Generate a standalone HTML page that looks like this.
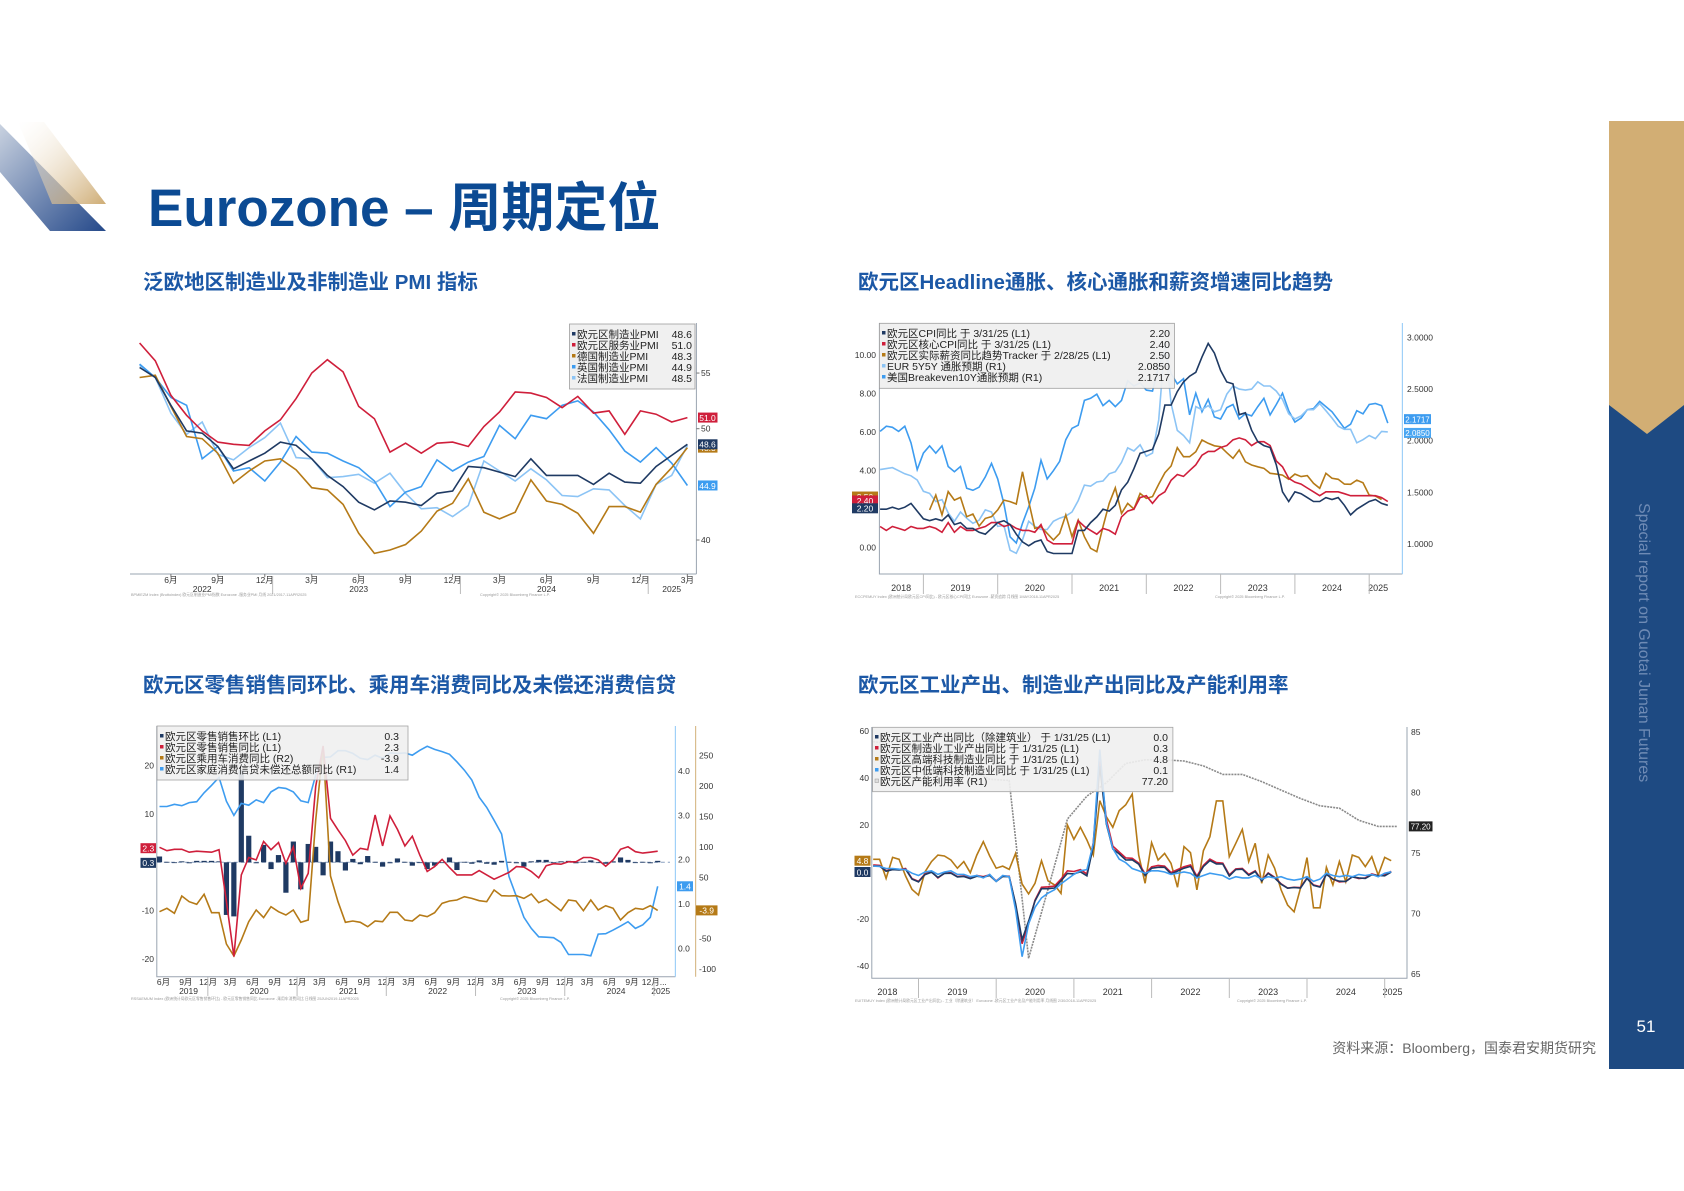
<!DOCTYPE html>
<html><head><meta charset="utf-8">
<style>
html,body{margin:0;padding:0;background:#fff;}
#page{position:relative;width:1684px;height:1191px;overflow:hidden;background:#fff;font-family:"Liberation Sans","Noto Sans CJK SC",sans-serif;}
svg text{font-family:"Liberation Sans","Noto Sans CJK SC",sans-serif;}
</style></head>
<body>
<div id="page">
<svg id="svg" width="1684" height="1191" viewBox="0 0 1684 1191" xmlns="http://www.w3.org/2000/svg">
<defs>
<linearGradient id="gBlue" x1="0" y1="0" x2="1" y2="1"><stop offset="0" stop-color="#c9d2e0"/><stop offset="1" stop-color="#25498a"/></linearGradient>
<linearGradient id="gGold" x1="0" y1="0" x2="1" y2="1"><stop offset="0" stop-color="#ffffff" stop-opacity="0.2"/><stop offset="1" stop-color="#c9a365"/></linearGradient>
</defs>
<g>
<polygon points="0,124 0,172 50,231 106,231" fill="url(#gBlue)"/>
<polygon points="18,122 44,122 106,204 52,204" fill="url(#gGold)" opacity="0.9"/>
</g>
<text x="148" y="226" font-size="53" font-weight="bold" fill="#0b4a93">Eurozone – 周期定位</text>
<g>
<rect x="1609" y="121" width="75" height="948" fill="#1e4a82"/>
<polygon points="1609,121 1684,121 1684,405 1647,434 1609,405" fill="#d2ae74"/>
<text transform="translate(1639,503) rotate(90)" font-size="16" fill="#6f8bb5">Special report on Guotai Junan Futures</text>
<text x="1646" y="1032" font-size="17" fill="#fff" text-anchor="middle">51</text>
</g>
<text x="1596" y="1053" font-size="14" fill="#666" text-anchor="end">资料来源：Bloomberg，国泰君安期货研究</text>
<text x="143" y="289" font-size="20.5" font-weight="bold" fill="#1c58a6">泛欧地区制造业及非制造业 PMI 指标</text>
<text x="858" y="289" font-size="20.5" font-weight="bold" fill="#1c58a6">欧元区Headline通胀、核心通胀和薪资增速同比趋势</text>
<text x="143" y="692" font-size="20.5" font-weight="bold" fill="#1c58a6">欧元区零售销售同环比、乘用车消费同比及未偿还消费信贷</text>
<text x="858" y="692" font-size="20.5" font-weight="bold" fill="#1c58a6">欧元区工业产出、制造业产出同比及产能利用率</text>
<g id="c1"></g>
<g id="c2"></g>
<g id="c3"></g>
<g id="c4"></g>
</svg>
</div>
<script>
// ---------- Chart 1 data (Apr 2022 - Mar 2025) ----------
const pmiMfgEZ = [55.5,54.6,52.1,49.8,49.6,48.4,46.4,47.1,47.8,48.8,48.5,47.3,45.8,44.8,43.4,42.7,43.5,43.4,43.1,44.2,44.4,46.6,46.5,46.1,45.7,47.3,45.8,45.8,45.8,45.0,46.0,45.2,45.1,46.6,47.6,48.6];
const pmiSrvEZ = [57.7,56.1,53.0,51.2,49.8,48.8,48.6,48.5,49.8,50.8,52.7,55.0,56.2,55.1,52.0,50.9,47.9,48.7,47.8,48.7,48.8,48.4,50.2,51.5,53.3,53.2,52.8,51.9,52.9,51.4,51.6,49.5,51.6,51.3,50.6,51.0];
const pmiMfgDE = [54.6,54.8,52.0,49.3,49.1,47.8,45.1,46.2,47.1,47.3,46.3,44.7,44.5,43.2,40.6,38.8,39.1,39.6,40.8,42.6,43.3,45.5,42.5,41.9,42.5,45.4,43.5,43.2,42.4,40.6,43.0,43.0,42.5,45.0,46.5,48.3];
const pmiMfgUK = [55.8,54.6,52.8,52.1,47.3,48.4,46.2,46.5,45.3,47.0,49.3,47.9,47.8,47.1,46.5,45.3,43.0,44.3,44.8,47.2,46.2,47.0,47.5,50.3,49.1,51.2,50.9,52.1,52.5,51.5,49.9,48.0,47.0,48.3,46.9,44.9];
const pmiMfgFR = [55.7,54.6,51.4,49.5,50.6,47.7,47.2,48.3,49.2,50.5,47.4,47.3,45.6,45.7,45.9,45.1,46.0,44.2,42.8,42.9,42.1,43.1,47.1,46.2,45.3,46.4,45.4,44.0,43.9,44.6,44.5,43.1,41.9,45.0,45.8,48.5];
const c1MonthLabels = ["6月","9月","12月","3月","6月","9月","12月","3月","6月","9月","12月","3月"];
const c1YearLabels = ["2022","2023","2024","2025"];
const c1Ticks = [40,50,55];

// ---------- Chart 2 data (monthly) ----------
const cpiYoY = [2.0,2.0,2.1,2.0,2.1,2.3,1.9,1.5, 1.4,1.5,1.4,1.7,1.2,1.3,1.0,1.0,0.8,0.7,1.0,1.3, 1.4,1.2,0.7,0.3,0.1,0.3,0.4,-0.2,-0.3,-0.3,-0.3,-0.3, 0.9,0.9,1.3,1.6,2.0,1.9,2.2,3.0,3.4,4.1,4.9,5.0, 5.1,5.9,7.4,7.4,8.1,8.6,8.9,9.1,9.9,10.6,10.1,9.2, 8.6,8.5,6.9,7.0,6.1,5.5,5.3,5.2,4.3,2.9,2.4,2.9, 2.8,2.6,2.4,2.4,2.6,2.5,2.6,2.2,1.7,2.0,2.2,2.4, 2.5,2.3,2.2];
const coreYoY = [1.1,0.9,1.1,1.0,0.9,1.1,1.0,1.0, 1.1,1.0,0.8,1.3,0.8,1.1,0.9,0.9,1.0,1.1,1.3,1.3, 1.1,1.2,1.0,0.9,0.9,0.8,1.2,0.4,0.2,0.2,0.2,0.2, 1.4,1.1,0.9,0.7,1.0,0.9,0.7,1.6,1.9,2.0,2.6,2.7, 2.3,2.7,2.9,3.5,3.8,3.7,4.0,4.3,4.8,5.0,5.0,5.2, 5.3,5.6,5.7,5.6,5.3,5.5,5.5,5.3,4.5,4.2,3.6,3.4, 3.3,3.1,2.9,2.7,2.9,2.9,2.9,2.8,2.7,2.7,2.7,2.7, 2.7,2.6,2.4];
const wageTracker = [1.96,2.73,1.70,2.91,2.47,2.61,1.61,1.75,1.12,1.52,1.61,1.96,2.47,2.39,2.27,3.94,2.39,1.00,1.09,0.74,0.40,0.74,1.70,0.57,1.44,0.57,-0.03,-0.21,1.09,2.30,3.11,1.78,2.30,2.01,2.82,2.56,2.65,3.29,3.89,4.24,5.19,4.72,4.72,4.98,5.59,5.42,5.29,5.24,4.93,4.64,5.07,4.46,4.29,4.20,4.12,3.86,3.82,3.77,3.55,3.82,3.69,3.74,3.34,3.08,3.86,3.60,3.55,3.30,3.29,3.51,3.37,2.73,2.68,2.50];
const eur5y5y = [1.72,1.73,1.74,1.71,1.68,1.66,1.62,1.51, 1.49,1.41,1.43,1.30,1.22,1.31,1.25,1.20,1.23,1.33,1.31,1.17, 1.18,0.94,0.91,1.04,1.22,1.17,1.14,1.14,1.22,1.25,1.27,1.31, 1.42,1.57,1.56,1.60,1.61,1.68,1.70,1.79,1.93,1.90,1.96,1.85, 1.88,2.20,2.95,2.36,2.10,2.05,1.98,2.33,2.30,2.34,2.28,2.30, 2.45,2.53,2.50,2.49,2.50,2.57,2.53,2.53,2.48,2.40,2.26,2.21, 2.24,2.30,2.30,2.36,2.29,2.22,2.14,2.11,2.11,1.98,2.01,2.05, 2.02,2.09,2.085];
const usBE10y = [2.09,2.14,2.13,2.09,2.14,1.98,1.72,1.88, 1.95,1.88,1.95,1.75,1.70,1.75,1.54,1.52,1.55,1.65,1.78,1.63, 1.39,1.07,1.01,1.20,1.36,1.54,1.81,1.63,1.71,1.80,2.01,2.12, 2.15,2.39,2.41,2.45,2.34,2.39,2.33,2.39,2.58,2.53,2.56,2.49, 2.48,2.72,2.87,2.65,2.55,2.60,2.25,2.46,2.28,2.40,2.23,2.21, 2.32,2.35,2.21,2.26,2.24,2.33,2.41,2.25,2.35,2.46,2.29,2.18, 2.22,2.30,2.31,2.38,2.33,2.28,2.20,2.12,2.16,2.29,2.26,2.35, 2.36,2.34,2.17];
const c2YearLabels = ["2018","2019","2020","2021","2022","2023","2024","2025"];
const c2LeftTicks = [0,2,4,6,8,10];
const c2RightTicks = [1.0,1.5,2.0,2.5,3.0];

// ---------- Chart 3 data (Jun 2019 - Jan 2025) ----------
const retailMoM = [1.2,0.1,-0.1,0.2,-0.2,0.3,0.3,0.3,0.2,-10.9,-11.2,19.1,5.5,-0.2,3.6,-1.4,1.5,-6.3,4.3,-5.6,3.8,3.2,-2.7,4.3,2.3,-1.7,0.7,-0.4,1.3,0.1,-0.9,-0.2,0.8,0.1,-0.7,0.0,-1.4,-0.7,0.0,1.0,-1.6,0.1,-0.3,0.4,-0.3,-0.5,0.3,0.1,-0.2,-0.9,0.2,0.5,0.5,-0.1,0.2,0.3,-0.2,0.1,0.4,-0.1,-0.3,0.2,1.0,0.5,-0.1,0.1,-0.2,0.3];
const retailYoY = [3.1,2.4,2.7,2.7,2.1,2.3,2.2,2.1,2.6,-8.1,-19.5,-2.6,1.0,0.5,4.3,2.6,4.1,-0.2,3.2,-5.4,-2.3,15.7,24.1,9.1,6.7,4.5,1.5,2.9,2.6,9.8,3.4,9.6,6.8,3.4,5.4,1.5,-1.9,-0.9,0.6,-1.1,-2.6,-2.6,-2.6,-1.7,-2.6,-3.5,-2.8,-2.1,-0.9,-1.0,-1.9,-3.2,-0.7,-0.3,-0.4,0.1,0.1,1.0,1.0,0.5,-0.8,0.5,2.7,3.2,2.2,1.9,2.1,2.3];
const carYoY = [-6.0,-0.5,-8.7,19.7,10.4,6.0,22.4,-7.7,-7.7,-59.0,-78.7,-52.5,-22.4,-3.3,-15.8,2.2,-6.0,-11.5,-3.3,-23.5,-19.7,144,264,52.5,10.4,-23.5,-21.3,-23.5,-30.6,-21.3,-22.4,-7.1,-7.1,-19.7,-21.3,-11.5,-14.2,-7.7,7.7,11.5,13.1,18.6,15.8,12.0,10.4,29.5,20.2,19.7,20.2,15.8,23.0,8.7,14.2,4.9,-4.4,13.1,11.5,-4.4,13.1,-3.3,3.8,-0.5,-19.7,-7.7,-0.5,-2.2,3.8,-3.9];
const creditYoY = [3.20,3.20,3.25,3.22,3.29,3.31,3.51,3.68,3.86,3.32,3.00,3.27,3.23,3.35,3.29,3.53,3.63,3.61,3.53,3.33,3.29,3.91,4.31,4.32,4.46,4.46,4.40,4.29,4.26,4.36,4.29,4.41,4.40,4.41,4.36,4.47,4.56,4.49,4.44,4.38,4.21,4.02,3.80,3.41,3.18,2.89,2.58,1.62,1.17,0.70,0.45,0.26,0.25,0.24,0.13,-0.14,-0.14,-0.14,-0.17,0.32,0.33,0.41,0.50,0.60,0.45,0.53,0.70,1.40];
const c3MonthLabels = ["6月","9月","12月","3月"];
const c3YearLabels = ["2019","2020","2021","2022","2023","2024","2025"];
const c3LeftTicks = [-20,-10,10,20];
const c3R1Ticks = [0.0,1.0,2.0,3.0,4.0];
const c3R2Ticks = [-100,-50,50,100,150,200,250];

// ---------- Chart 4 data (May 2018 - Jan 2025) ----------
const ipExCon = [2.5,2.5,0.3,1.0,0.9,1.2,-3.0,-4.2, -1.1,-0.1,-2.3,-0.6,-0.5,-2.1,-1.9,-2.8,-1.8,-2.2,-1.5,-4.0, -1.9,-2.0,-13.5,-28.7,-20.9,-12.3,-7.1,-7.1,-6.8,-3.8,-0.6,-0.8, 0.1,-1.6,11.0,45.0,20.5,9.8,7.7,5.1,5.2,3.3,-1.5,1.6, 2.0,2.0,-0.8,0.4,1.6,2.4,-2.4,2.3,4.9,3.4,3.4,-1.7, 1.0,1.2,-1.4,0.2,-3.8,-0.6,-2.5,-5.2,-6.9,-6.6,-6.8,-2.7, -5.7,-6.4,-1.0,-3.0,-3.9,-4.0,-2.1,-2.5,-2.7,-1.2,-1.5,-1.6, 0.0];
const ipMfg = [3.0,2.8,0.5,1.2,1.0,1.5,-2.8,-4.0, -0.8,0.2,-2.5,-0.5,-0.3,-2.0,-1.7,-2.6,-1.5,-2.0,-1.2,-3.8, -1.6,-1.8,-14.0,-30.5,-22.0,-12.0,-6.5,-6.3,-6.0,-3.0,0.5,0.2, 1.0,-0.8,12.5,47.0,22.5,11.0,8.5,6.0,5.8,3.8,-0.8,2.2, 2.8,2.5,-0.2,1.0,2.2,3.0,-1.8,2.8,5.5,4.0,3.8,-1.2, 1.3,1.5,-1.0,0.5,-3.5,-0.4,-2.2,-5.0,-6.8,-6.5,-6.6,-2.5, -5.5,-6.2,-0.8,-3.0,-4.2,-4.0,-2.0,-2.8,-2.5,-0.8,-1.6,-1.2, 0.3];
const ipHighTech = [5.4,5.4,-2.7,6.2,5.4,-1.7,-7.4,-9.8,0.1,4.4,7.2,6.8,5.1,1.6,4.4,-0.3,7.2,12.9,6.8,1.6,2.5,1.1,7.9,-5.1,-9.3,-4.8,4.8,-3.8,-5.5,-9.1,20.0,13.9,19.0,13.6,7.2,30.3,23.5,19.0,26.1,28.5,33.1,7.2,-4.8,12.5,5.1,7.9,3.7,-6.5,10.8,8.2,-7.6,9.1,15.0,30.2,30.2,6.5,12.2,18.1,4.4,12.2,-4.8,7.2,1.6,-7.6,-14.0,-16.9,-6.9,6.1,-15.2,-15.2,2.0,-5.5,4.4,-4.1,7.2,6.2,2.3,6.5,-1.3,6.2,4.8];
const ipMidLow = [2.5,2.4,1.5,1.5,1.2,1.0,-0.5,-1.5, 0.0,0.5,-1.0,0.0,0.5,-1.0,-1.0,-2.0,-1.5,-2.5,-1.0,-4.0, -1.5,-2.0,-16.0,-36.0,-22.0,-15.0,-11.0,-9.0,-7.5,-5.0,-3.0,-1.0, 0.5,1.0,12.0,52.0,21.0,10.0,5.5,4.0,1.5,0.5,-0.5,0.5, 0.5,0.0,-1.0,-0.5,0.0,-0.5,-2.5,-1.5,-0.5,-1.0,-1.5,-3.0, -2.0,-2.5,-2.5,-1.5,-3.0,-2.0,-2.5,-2.0,-3.0,-3.5,-3.0,-2.0, -4.0,-3.0,-0.5,-1.5,-2.0,-1.5,-2.0,-1.0,-1.5,-1.0,-2.0,-0.5, 0.1];
const capUtil = [84.2,84.0,83.8,83.6,82.6,81.9,81.1,81.0,66.3,72.0,77.8,79.7,80.8,82.4,82.7,82.7,82.6,82.2,81.5,81.5,80.9,80.2,79.5,78.9,78.7,77.7,77.2,77.2];
const c4YearLabels = ["2018","2019","2020","2021","2022","2023","2024","2025"];
const c4LeftTicks = [-40,-20,20,40,60];
const c4RightTicks = [65,70,75,80,85];

// ---------- helpers ----------
const NS = "http://www.w3.org/2000/svg";
function mk(tag, attrs, parent){ const e=document.createElementNS(NS,tag); for(const k in attrs) e.setAttribute(k,attrs[k]); parent.appendChild(e); return e; }
function txt(parent, x, y, s, size, fill, anchor){ const t=mk("text",{x:x,y:y,"font-size":size,fill:fill||"#333","text-anchor":anchor||"start"},parent); t.textContent=s; return t; }
function pathD(vals, fx, fy){ let d=""; vals.forEach((v,i)=>{ d += (i?"L":"M")+fx(i).toFixed(1)+","+fy(v).toFixed(1); }); return d; }
const NAVY="#1f3a63", RED="#cf1f3b", GOLD="#b57a17", BLUE="#3d9cf0", LBLUE="#8cc4f5";

// ================= Chart 1 =================
(function(){
 const g=document.getElementById("c1");
 const x=i=>139.6+15.65*i, y=v=>428.7-(v-50)*11.13;
 const ax=mk("path",{d:"M130,574 L696.4,574 M696.4,323 L696.4,574",stroke:"#9aa4b0","stroke-width":1,fill:"none"},g);
 
 
 c1Ticks.forEach(v=>{
  const t=txt(g,701,y(v)+3,String(v),8.5,"#333");
  
  
  mk("line",{x1:696.4,x2:699.5,y1:y(v),y2:y(v),stroke:"#777"},g);
 });
 c1MonthLabels.forEach((s,k)=>{
  const i=2+3*k;
  const t=txt(g,x(i),583,s,8.5,"#333","middle");
  
  
  mk("line",{x1:x(i),x2:x(i),y1:574,y2:577,stroke:"#777"},g);
 });
 const yearPos=[4,14,26,34];
 c1YearLabels.forEach((s,k)=>{
  const t=txt(g,x(yearPos[k]),592,s,8.5,"#333","middle");
  
  
 });
 [8.5,20.5,32.5].forEach(i=>mk("line",{x1:x(i),x2:x(i),y1:576,y2:594,stroke:"#bbb"},g));
 const series=[[pmiMfgFR,LBLUE,"france-mfg-line"],[pmiMfgUK,BLUE,"uk-mfg-line"],[pmiMfgDE,GOLD,"germany-mfg-line"],[pmiSrvEZ,RED,"ez-services-line"],[pmiMfgEZ,NAVY,"ez-mfg-line"]];
 series.forEach(s=>{
  const p=mk("path",{d:pathD(s[0],x,y),stroke:s[1],"stroke-width":1.6,fill:"none"},g);
  
  
 });
 const lg=mk("g",{},g);
 
 
 mk("rect",{x:569.5,y:324,width:125.5,height:65,fill:"#f0f0f0",stroke:"#999","stroke-width":0.8,opacity:0.95},lg);
 const names=["欧元区制造业PMI","欧元区服务业PMI","德国制造业PMI","英国制造业PMI","法国制造业PMI"];
 const cols=[NAVY,RED,GOLD,BLUE,LBLUE];
 const lastVals=[pmiMfgEZ,pmiSrvEZ,pmiMfgDE,pmiMfgUK,pmiMfgFR].map(a=>a[a.length-1].toFixed(1));
 names.forEach((n,k)=>{
  const yy=338+k*11;
  mk("rect",{x:572,y:yy-6,width:3.5,height:3.5,fill:cols[k]},lg);
  const t=txt(lg,577,yy,n,10.5,"#222");
  
  
  const v=txt(lg,692,yy,lastVals[k],10.5,"#222","end");
  
  
 });
 const tags=[[pmiSrvEZ,RED],[pmiMfgDE,GOLD],[pmiMfgEZ,NAVY],[pmiMfgUK,BLUE]];
 tags.forEach(tg=>{
  const v=tg[0][tg[0].length-1];
  const r=mk("rect",{x:698,y:y(v)-5,width:19.5,height:10,fill:tg[1]},g);
  
  
  txt(g,707.5,y(v)+3.3,v.toFixed(1),8.5,"#fff","middle");
 });
 const f=txt(g,131,596,"BPMIEZM Index (Bruttoindex) 欧元区制造业PMI指数 Eurozone -服务业PMI 月线 2021/2017-11APR2025",3.8,"#999");
 
 
 txt(g,480,596,"Copyright© 2025 Bloomberg Finance L.P.",3.8,"#999");
})();

// ================= Chart 2 =================
(function(){
 const g=document.getElementById("c2");
 const xt=t=>923.4+(t-2019)*74.3;
 const yl=v=>547.7-v*19.27, yr=v=>544-(v-1)*103.3;
 const ax=mk("path",{d:"M879.4,323 L879.4,574 L1402.4,574",stroke:"#9aa4b0","stroke-width":1,fill:"none"},g);
 
 
 const rax=mk("line",{x1:1402.4,x2:1402.4,y1:323,y2:574,stroke:"#9fd0f8","stroke-width":1.2},g);
 
 
 c2LeftTicks.forEach(v=>{
  const t=txt(g,876,yl(v)+3,v.toFixed(2),8.5,"#333","end");
  
  
 });
 c2RightTicks.forEach(v=>{
  const t=txt(g,1407,yr(v)+3,v.toFixed(4),8.5,"#333");
  
  
 });
 c2YearLabels.forEach((s,k)=>{
  const yr0=2018+k;
  let c = k==0 ? 2018.7 : (k==7 ? 2025.12 : yr0+0.5);
  const t=txt(g,xt(c),591,s,9,"#333","middle");
  
  
  if(k>0) mk("line",{x1:xt(yr0),x2:xt(yr0),y1:574,y2:594,stroke:"#bbb"},g);
 });
 const m0=2018+5/12, w0=2019+1/12;
 const series=[[usBE10y,m0,yr,BLUE,"us-breakeven-line"],[eur5y5y,m0,yr,LBLUE,"eur-5y5y-line"],[wageTracker,w0,yl,GOLD,"wage-tracker-line"],[coreYoY,m0,yl,RED,"core-cpi-line"],[cpiYoY,m0,yl,NAVY,"cpi-line"]];
 series.forEach(s=>{
  const p=mk("path",{d:pathD(s[0],i=>xt(s[1]+i/12),s[2]),stroke:s[3],"stroke-width":1.6,fill:"none"},g);
  
  
 });
 const lg=mk("g",{},g);
 
 
 mk("rect",{x:879.4,y:323.3,width:295,height:65,fill:"#f0f0f0",stroke:"#999","stroke-width":0.8,opacity:0.95},lg);
 const names=["欧元区CPI同比 于 3/31/25 (L1)","欧元区核心CPI同比 于 3/31/25 (L1)","欧元区实际薪资同比趋势Tracker 于 2/28/25 (L1)","EUR 5Y5Y 通胀预期 (R1)","美国Breakeven10Y通胀预期 (R1)"];
 const cols=[NAVY,RED,GOLD,LBLUE,BLUE];
 const vals=[cpiYoY[cpiYoY.length-1].toFixed(2),coreYoY[coreYoY.length-1].toFixed(2),wageTracker[wageTracker.length-1].toFixed(2),eur5y5y[eur5y5y.length-1].toFixed(4),"2.1717"];
 names.forEach((n,k)=>{
  const yy=337+k*11;
  mk("rect",{x:882,y:yy-6,width:3.5,height:3.5,fill:cols[k]},lg);
  const t=txt(lg,887,yy,n,10.5,"#222");
  
  
  const v=txt(lg,1170,yy,vals[k],10.5,"#222","end");
  
  
 });
 const lt=[[wageTracker,GOLD,-3],[coreYoY,RED,-1],[cpiYoY,NAVY,3]];
 lt.forEach(q=>{
  const v=q[0][q[0].length-1];
  const r=mk("rect",{x:852,y:yl(v)-5+q[2],width:26,height:10,fill:q[1]},g);
  
  
  txt(g,865,yl(v)+3.3+q[2],v.toFixed(2),8.5,"#fff","middle");
 });
 const rt=[[usBE10y,"2.1717",-4],[eur5y5y,"2.0850",1]];
 rt.forEach(q=>{
  const v=q[0][q[0].length-1];
  const r=mk("rect",{x:1404,y:yr(v)-5+q[2],width:27,height:10,fill:q[0]===usBE10y?BLUE:"#4aa6f2"},g);
  
  
  txt(g,1417.5,yr(v)+3.3+q[2],q[1],8,"#fff","middle");
 });
 const f=txt(g,855,598,"ECCPEMUY Index (欧洲统计局欧元区CPI同比) - 欧元区核心CPI同比 Eurozone -薪资追踪 月线图 1MAY2018-11APR2025",3.8,"#999");
 
 
 txt(g,1215,598,"Copyright© 2025 Bloomberg Finance L.P.",3.8,"#999");
})();

// ================= Chart 3 =================
(function(){
 const g=document.getElementById("c3");
 const x=i=>159.5+7.436*i;
 const yl=v=>862.3-v*4.83, yr1=v=>948.3-v*44.3, yr2=v=>908-v*0.61;
 const ax=mk("path",{d:"M156.8,726 L156.8,976.7 L675.4,976.7",stroke:"#9aa4b0","stroke-width":1,fill:"none"},g);
 
 
 mk("line",{x1:675.4,x2:675.4,y1:726,y2:976.7,stroke:"#9fd0f8","stroke-width":1.2},g);
 mk("line",{x1:695.6,x2:695.6,y1:726,y2:976.7,stroke:"#d9bd8e","stroke-width":1.2},g);
 c3LeftTicks.forEach(v=>{
  const t=txt(g,154,yl(v)+3,String(v),8.5,"#333","end");
  
  
 });
 c3R1Ticks.forEach(v=>{
  const t=txt(g,678,yr1(v)+3,v.toFixed(1),8.5,"#333");
  
  
 });
 c3R2Ticks.forEach(v=>{
  const t=txt(g,699,yr2(v)+3,String(v),8.5,"#333");
  
  
 });
 for(let i=0;i<=66;i+=3){
  const s=c3MonthLabels[(i/3)%4]+(i==66?"...":"");
  const t=txt(g,x(i)+4,985,s,8.5,"#333","middle");
  
  
 }
 const yc=[3.5,13,25,37,49,61,67];
 c3YearLabels.forEach((s,k)=>{
  const t=txt(g,x(yc[k])+3,994,s,8.5,"#333","middle");
  
  
 });
 [6.5,18.5,30.5,42.5,54.5,66.5].forEach(i=>mk("line",{x1:x(i),x2:x(i),y1:977,y2:996,stroke:"#bbb"},g));
 const zl=mk("line",{x1:156.8,x2:670,y1:yl(0),y2:yl(0),stroke:"#8aa0c0","stroke-width":1,"stroke-dasharray":"4,3"},g);
 
 
 retailMoM.forEach((v,i)=>{
  const r=mk("rect",{x:x(i)-2.6,y:Math.min(yl(v),yl(0)),width:5.2,height:Math.max(Math.abs(yl(v)-yl(0)),0.8),fill:NAVY},g);
  
  
 });
 const series=[[creditYoY,yr1,BLUE,"consumer-credit-line"],[carYoY,yr2,GOLD,"car-sales-line"],[retailYoY,yl,RED,"retail-yoy-line"]];
 series.forEach(s=>{
  const p=mk("path",{d:pathD(s[0],x,s[1]),stroke:s[2],"stroke-width":1.6,fill:"none"},g);
  
  
 });
 const lg=mk("g",{},g);
 
 
 mk("rect",{x:157,y:726,width:251,height:54,fill:"#f0f0f0",stroke:"#999","stroke-width":0.8,opacity:0.9},lg);
 const names=["欧元区零售销售环比 (L1)","欧元区零售销售同比 (L1)","欧元区乘用车消费同比 (R2)","欧元区家庭消费信贷未偿还总额同比 (R1)"];
 const cols=[NAVY,RED,GOLD,BLUE];
 const vals=[retailMoM[retailMoM.length-1].toFixed(1),retailYoY[retailYoY.length-1].toFixed(1),carYoY[carYoY.length-1].toFixed(1),creditYoY[creditYoY.length-1].toFixed(1)];
 names.forEach((n,k)=>{
  const yy=740+k*11;
  mk("rect",{x:160,y:yy-6,width:3.5,height:3.5,fill:cols[k]},lg);
  const t=txt(lg,165,yy,n,10.5,"#222");
  
  
  const v=txt(lg,399,yy,vals[k],10.5,"#222","end");
  
  
 });
 const lt=[[retailYoY,RED,-3],[retailMoM,NAVY,2]];
 lt.forEach(q=>{
  const v=q[0][q[0].length-1];
  const r=mk("rect",{x:140.5,y:yl(v)-5+q[2],width:15.5,height:10,fill:q[1]},g);
  
  
  txt(g,148.3,yl(v)+3.3+q[2],v.toFixed(1),8.5,"#fff","middle");
 });
 const cv=creditYoY[creditYoY.length-1];
 const r1=mk("rect",{x:677,y:yr1(cv)-5,width:16,height:10,fill:BLUE},g);
 
 
 txt(g,685,yr1(cv)+3.3,cv.toFixed(1),8.5,"#fff","middle");
 const gv=carYoY[carYoY.length-1];
 const r2=mk("rect",{x:696,y:yr2(gv)-5,width:21.5,height:10,fill:GOLD},g);
 
 
 txt(g,706.7,yr2(gv)+3.3,gv.toFixed(1),8.5,"#fff","middle");
 const f=txt(g,131,1000,"RSSAEMUM Index (欧洲统计局欧元区零售销售环比) - 欧元区零售销售同比 Eurozone -乘用车消费同比 日线图 25JUN2019-11APR2025",3.8,"#999");
 
 
 txt(g,500,1000,"Copyright© 2025 Bloomberg Finance L.P.",3.8,"#999");
})();

// ================= Chart 4 =================
(function(){
 const g=document.getElementById("c4");
 const xt=t=>918.5+(t-2019)*77.7;
 const yl=v=>872-v*2.354, yr=v=>853-(v-75)*12.1;
 const ax=mk("path",{d:"M871.8,727 L871.8,978.3 L1407,978.3 L1407,727",stroke:"#9aa4b0","stroke-width":1,fill:"none"},g);
 
 
 c4LeftTicks.forEach(v=>{
  const t=txt(g,869,yl(v)+3,String(v),8.5,"#333","end");
  
  
 });
 c4RightTicks.forEach(v=>{
  const t=txt(g,1411,yr(v)+3,String(v),8.5,"#333");
  
  
 });
 c4YearLabels.forEach((s,k)=>{
  const y0=2018+k;
  const c = k==0 ? 2018.6 : (k==7 ? 2025.1 : y0+0.5);
  const t=txt(g,xt(c),995,s,9,"#333","middle");
  
  
  if(k>0) mk("line",{x1:xt(y0),x2:xt(y0),y1:978,y2:998,stroke:"#bbb"},g);
 });
 const m0=2018+5/12;
 const cu=mk("path",{d:pathD(capUtil,i=>xt(2018+5/12+i*0.25),yr),stroke:"#8a8a8a","stroke-width":1.6,fill:"none","stroke-dasharray":"2,1"},g);
 
 
 const series=[[ipHighTech,GOLD,"high-tech-mfg-line"],[ipMfg,RED,"mfg-output-line"],[ipExCon,NAVY,"industrial-output-line"],[ipMidLow,BLUE,"mid-low-tech-mfg-line"]];
 series.forEach(s=>{
  const p=mk("path",{d:pathD(s[0],i=>xt(m0+i/12),yl),stroke:s[1],"stroke-width":1.6,fill:"none"},g);
  
  
 });
 const lg=mk("g",{},g);
 
 
 mk("rect",{x:872.6,y:727.3,width:300.3,height:64.4,fill:"#f0f0f0",stroke:"#999","stroke-width":0.8,opacity:0.9},lg);
 const names=["欧元区工业产出同比（除建筑业） 于 1/31/25 (L1)","欧元区制造业工业产出同比 于 1/31/25 (L1)","欧元区高端科技制造业同比 于 1/31/25 (L1)","欧元区中低端科技制造业同比 于 1/31/25 (L1)","欧元区产能利用率 (R1)"];
 const cols=[NAVY,RED,GOLD,BLUE,"#ddd"];
 const vals=[ipExCon[ipExCon.length-1].toFixed(1),ipMfg[ipMfg.length-1].toFixed(1),ipHighTech[ipHighTech.length-1].toFixed(1),ipMidLow[ipMidLow.length-1].toFixed(1),capUtil[capUtil.length-1].toFixed(2)];
 names.forEach((n,k)=>{
  const yy=741+k*11;
  mk("rect",{x:875,y:yy-6,width:3.5,height:3.5,fill:cols[k],stroke:k==4?"#999":"none","stroke-width":0.5},lg);
  const t=txt(lg,880,yy,n,10.5,"#222");
  
  
  const v=txt(lg,1168,yy,vals[k],10.5,"#222","end");
  
  
 });
 const lt=[[ipHighTech,GOLD,4.8],[ipExCon,NAVY,0]];
 lt.forEach(q=>{
  const v=q[0][q[0].length-1];
  const yy = q[0]===ipHighTech ? yl(v)-0 : yl(v);
  const r=mk("rect",{x:854.5,y:yy-5,width:16,height:10,fill:q[1]},g);
  
  
  txt(g,862.5,yy+3.3,v.toFixed(1),8.5,"#fff","middle");
 });
 const cvv=capUtil[capUtil.length-1];
 const rr=mk("rect",{x:1408.8,y:yr(cvv)-5,width:23.7,height:10,fill:"#222"},g);
 
 
 txt(g,1420.6,yr(cvv)+3.3,cvv.toFixed(2),8,"#fff","middle");
 const f=txt(g,855,1002,"EUITEMUY Index (欧洲统计局欧元区工业产出同比) - 工业（除建筑业） Eurozone -欧元区工业产出及产能利用率 月线图 2/30/2018-11APR2025",3.8,"#999");
 
 
 txt(g,1237,1002,"Copyright© 2025 Bloomberg Finance L.P.",3.8,"#999");
})();
</script>
</body></html>
